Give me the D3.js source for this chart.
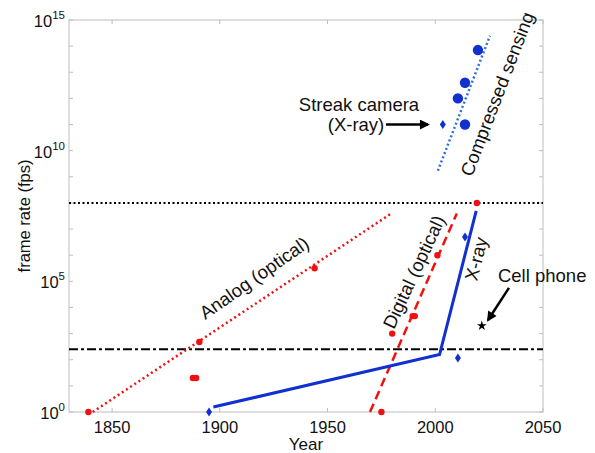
<!DOCTYPE html>
<html>
<head>
<meta charset="utf-8">
<script src="https://cdn.jsdelivr.net/npm/d3@7"></script>
<style>
  body { margin: 0; background: #fff; }
  svg { font-family: "Liberation Sans", Arial, Helvetica, sans-serif; }
</style>
</head>
<body>
<div id="chart"></div>
<script>
// valeurs : [année, log10(fps)]
var analogLine = [[1841, 0], [1980, 7.62]];
var digitalLine = [[1969.7, 0], [2010, 7.6]];
var xrayLine = [[1897, 0.19], [2002, 2.2], [2019, 7.7]];
var csLine = [[2001.2, 9.23], [2025.4, 14.4]];

var analogPts = [[1839, 0], [1887.5, 1.3], [1889, 1.3], [1890.5, 2.68], [1944, 5.5]];
var digitalPts = [[1975, 0], [1980, 3.0], [1989.5, 3.67], [1990.5, 3.67], [2001, 6.0], [2019.3, 8.0]];
var xrayPts = [[1895, 0], [2010.5, 2.07], [2013.8, 6.7], [2003.5, 11.0]];
var csPts = [[2019.8, 13.85], [2013.8, 12.6], [2010.5, 12.0], [2013.8, 11.0]];
var cellPts = [[2021.6, 3.3]];

var hLines = [8, 2.4];   // pointillé noir, tiret-point noir

var xTicks = [1850, 1900, 1950, 2000, 2050];
var yTicks = d3.range(0, 16);
var yLabels = [0, 5, 10, 15];

var width = 595, height = 453;
var margin = {top: 20, right: 52, bottom: 41, left: 69};

var svg = d3.select("#chart").append("svg")
  .attr("width", width).attr("height", height);

var x = d3.scaleLinear().domain([1830, 2050]).range([margin.left, width - margin.right]);
var y = d3.scaleLog().domain([1, 1e15]).range([height - margin.bottom, margin.top]);
var yl = e => y(Math.pow(10, e));

var axisCol = "#bdbdbd";
var blue = "#1030d0", red = "#f01010";

// cadre + graduations
svg.append("rect")
  .attr("x", x(1830)).attr("y", y(1e15))
  .attr("width", x(2050) - x(1830)).attr("height", y(1) - y(1e15))
  .attr("fill", "none").attr("stroke", axisCol).attr("stroke-width", 1);

var g = svg.append("g").attr("stroke", axisCol).attr("stroke-width", 1);
xTicks.forEach(t => {
  g.append("line").attr("x1", x(t)).attr("x2", x(t)).attr("y1", y(1)).attr("y2", y(1) - 4);
  g.append("line").attr("x1", x(t)).attr("x2", x(t)).attr("y1", y(1e15)).attr("y2", y(1e15) + 4);
});
yTicks.forEach(t => {
  g.append("line").attr("x1", x(1830)).attr("x2", x(1830) + 4).attr("y1", yl(t)).attr("y2", yl(t));
  g.append("line").attr("x1", x(2050)).attr("x2", x(2050) - 4).attr("y1", yl(t)).attr("y2", yl(t));
});

// libellés des axes
svg.append("g").attr("font-size", 16.5).attr("text-anchor", "middle").attr("fill", "#111")
  .selectAll("text").data(xTicks).join("text")
  .attr("x", d => x(d)).attr("y", y(1) + 21)
  .text(d => d);

var yt = svg.append("g").attr("font-size", 16.5).attr("text-anchor", "end").attr("fill", "#111")
  .selectAll("text").data(yLabels).join("text")
  .attr("x", x(1830) - 4).attr("y", d => yl(d) + 7);
yt.append("tspan").text("10");
yt.append("tspan").attr("font-size", 11.5).attr("dy", -8).text(d => d);

svg.append("text").attr("x", x(1940)).attr("y", height - 3)
  .attr("text-anchor", "middle").attr("font-size", 17).attr("fill", "#111").text("Year");
svg.append("text")
  .attr("transform", `translate(30,${(y(1) + y(1e15)) / 2}) rotate(-90)`)
  .attr("text-anchor", "middle").attr("font-size", 16.5).attr("fill", "#111").text("frame rate (fps)");

// lignes horizontales
svg.append("line").attr("x1", x(1830)).attr("x2", x(2050))
  .attr("y1", yl(hLines[0])).attr("y2", yl(hLines[0]))
  .attr("stroke", "#000").attr("stroke-width", 2).attr("stroke-dasharray", "2,2.5");
svg.append("line").attr("x1", x(1830)).attr("x2", x(2050))
  .attr("y1", yl(hLines[1])).attr("y2", yl(hLines[1]))
  .attr("stroke", "#000").attr("stroke-width", 2).attr("stroke-dasharray", "9,3,3,3");

var line = d3.line().x(d => x(d[0])).y(d => yl(d[1]));

svg.append("path").attr("d", line(analogLine)).attr("fill", "none")
  .attr("stroke", red).attr("stroke-width", 2.5).attr("stroke-dasharray", "2,3");
svg.append("path").attr("d", line(digitalLine)).attr("fill", "none")
  .attr("stroke", red).attr("stroke-width", 2.5).attr("stroke-dasharray", "9,5");
svg.append("path").attr("d", line(xrayLine)).attr("fill", "none")
  .attr("stroke", blue).attr("stroke-width", 3);
svg.append("path").attr("d", line(csLine)).attr("fill", "none")
  .attr("stroke", "#2f6fd8").attr("stroke-width", 2.5).attr("stroke-dasharray", "2,2.5");

// points
svg.append("g").attr("fill", red).selectAll("circle")
  .data(analogPts.concat(digitalPts)).join("circle")
  .attr("cx", d => x(d[0])).attr("cy", d => yl(d[1])).attr("r", 3.2);

svg.append("g").attr("fill", blue).selectAll("circle")
  .data(csPts).join("circle")
  .attr("cx", d => x(d[0])).attr("cy", d => yl(d[1])).attr("r", 5.2);

svg.append("g").attr("fill", blue).selectAll("path")
  .data(xrayPts).join("path")
  .attr("transform", d => `translate(${x(d[0])},${yl(d[1])})`)
  .attr("d", "M0,-4.5L3,0L0,4.5L-3,0Z");

svg.append("g").attr("fill", "#000").selectAll("path")
  .data(cellPts).join("path")
  .attr("transform", d => `translate(${x(d[0])},${yl(d[1])})`)
  .attr("d", d3.symbol(d3.symbolStar, 30)());

// annotations : [texte, année, log10, rotation, ancre]
var notes = [
  ["Analog (optical)", 1915.9, 5.13, -35, "middle"],
  ["Digital (optical)", 1990.1, 5.36, -65, "middle"],
  ["X-ray", 2018.9, 5.86, -76, "middle"],
  ["Compressed sensing", 2028.7, 12.17, -69, "middle"]
];
svg.append("g").attr("font-size", 18.5).attr("fill", "#111")
  .selectAll("text").data(notes).join("text")
  .attr("transform", d => `translate(${x(d[1])},${yl(d[2])}) rotate(${d[3]})`)
  .attr("text-anchor", d => d[4]).attr("dominant-baseline", "central")
  .text(d => d[0]);

svg.append("text").attr("x", x(2029.1)).attr("y", yl(4.98))
  .attr("font-size", 18.5).attr("fill", "#111").text("Cell phone");
svg.append("text").attr("x", x(1964.6)).attr("y", yl(11.52))
  .attr("font-size", 18.5).attr("fill", "#111").attr("text-anchor", "middle").text("Streak camera");
svg.append("text").attr("x", x(1963.2)).attr("y", yl(11.0))
  .attr("font-size", 18.5).attr("fill", "#111").attr("text-anchor", "middle").attr("dominant-baseline", "central").text("(X-ray)");

// flèches
svg.append("defs").append("marker").attr("id", "head")
  .attr("viewBox", "0 0 10 10").attr("refX", 8).attr("refY", 5)
  .attr("markerWidth", 4.5).attr("markerHeight", 4).attr("orient", "auto")
  .append("path").attr("d", "M0,0L10,5L0,10Z").attr("fill", "#000");

var arrows = [[[1977.1, 11.0], [1996.6, 11.0]], [[2034.2, 4.75], [2024.5, 3.52]]];
svg.append("g").selectAll("path").data(arrows).join("path")
  .attr("d", d => line(d)).attr("stroke", "#000").attr("stroke-width", 2.5)
  .attr("fill", "none").attr("marker-end", "url(#head)");
</script>
</body>
</html>
